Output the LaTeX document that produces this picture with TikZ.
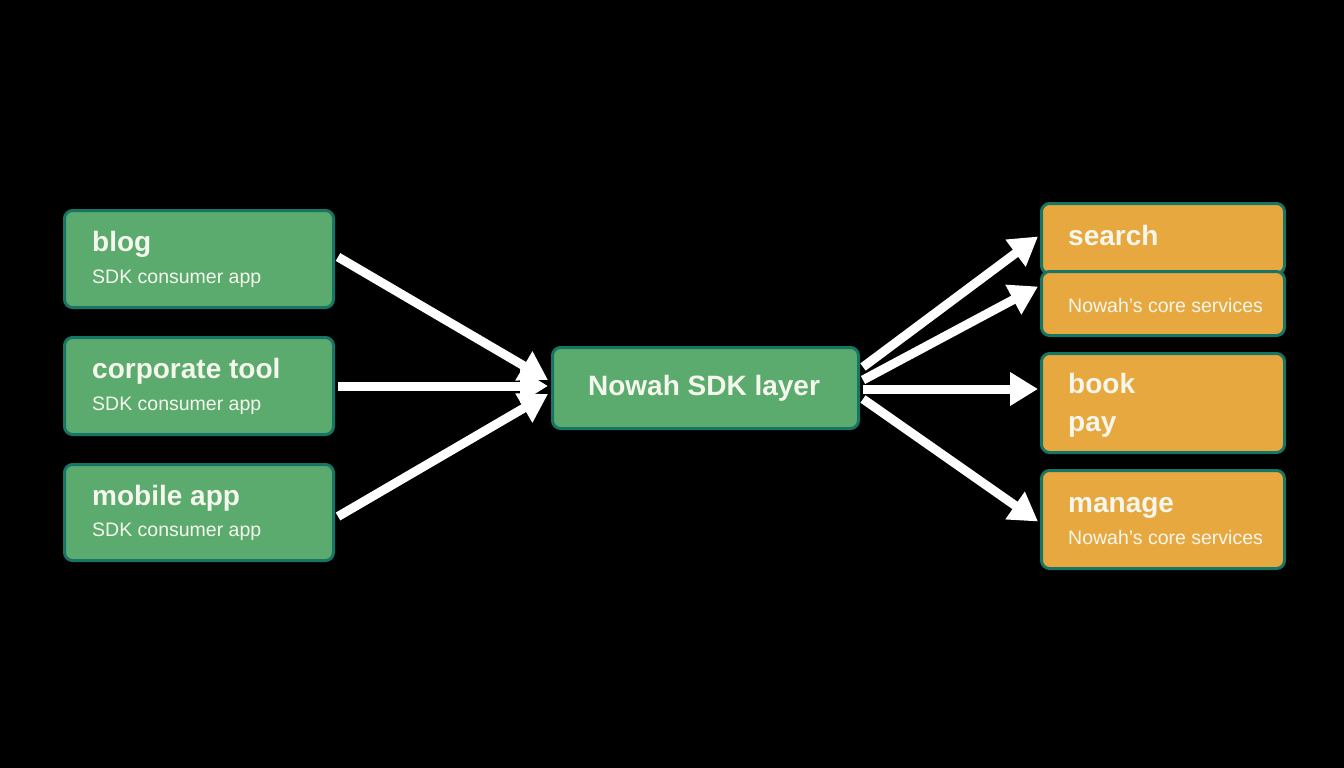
\documentclass[tikz,border=0pt]{standalone}
\usepackage{fontspec}
\setmainfont{Liberation Sans}
\usetikzlibrary{arrows.meta}
\definecolor{gfill}{HTML}{5BAA6E}
\definecolor{ofill}{HTML}{E8A840}
\definecolor{bcol}{HTML}{167565}
\definecolor{tcol}{HTML}{F5F7EC}
\tikzset{
  box/.style={draw=bcol, line width=3pt, rounded corners=8pt, anchor=north west, inner sep=0pt},
  gbox/.style={box, fill=gfill},
  obox/.style={box, fill=ofill},
  ttl/.style={anchor=base west, inner sep=0pt, text=tcol, font=\fontsize{28}{30}\selectfont\bfseries},
  sub/.style={anchor=base west, inner sep=0pt, text=tcol, font=\fontsize{19.5}{22}\selectfont},
  arr/.style={draw=white, line width=9pt, -{Triangle[length=28pt,width=32pt]}}
}
\begin{document}
\begin{tikzpicture}[x=1pt,y=-1pt]
\useasboundingbox[fill=black] (0,0) rectangle (1344,768);
% left boxes
\node[gbox, minimum width=269pt, minimum height=97pt] (blog) at (63,209) {};
\node[gbox, minimum width=269pt, minimum height=97pt] (corp) at (63,336) {};
\node[gbox, minimum width=269pt, minimum height=96pt] (mob) at (63,463) {};
\node[ttl] (blogt) at (92,251) {blog};
\node[sub] (blogs) at (92,283) {SDK consumer app};
\node[ttl] (corpt) at (92,378) {corporate tool};
\node[sub] (corps) at (92,410) {SDK consumer app};
\node[ttl] (mobt) at (92,505) {mobile app};
\node[sub] (mobs) at (92,536) {SDK consumer app};
% center
\node[gbox, minimum width=306pt, minimum height=81pt] (sdk) at (551,346) {};
\node[anchor=base, inner sep=0pt, text=tcol, font=\fontsize{28}{30}\selectfont\bfseries] (sdkt) at (704,395) {Nowah SDK layer};
% right boxes
\node[obox, minimum width=243pt, minimum height=70pt] (search) at (1040,202) {};
\node[obox, minimum width=243pt, minimum height=64pt] (core) at (1040,270) {};
\node[obox, minimum width=243pt, minimum height=99pt] (book) at (1040,352) {};
\node[obox, minimum width=243pt, minimum height=98pt] (manage) at (1040,469) {};
\node[ttl] (searcht) at (1068,245) {search};
\node[sub] (cores) at (1068,312) {Nowah's core services};
\node[ttl] (bookt) at (1068,393) {book};
\node[ttl] (payt) at (1068,431) {pay};
\node[ttl] (managet) at (1068,512) {manage};
\node[sub] (manages) at (1068,544) {Nowah's core services};
% arrows in
\draw[arr] ([xshift=3pt,yshift=2pt]blog.east) -- ([xshift=-3pt,yshift=8pt]sdk.west);
\draw[arr] ([xshift=3pt,yshift=0pt]corp.east) -- ([xshift=-3pt,yshift=2pt]sdk.west);
\draw[arr] ([xshift=3pt,yshift=-4pt]mob.east) -- ([xshift=-3pt,yshift=-6pt]sdk.west);
% arrows out
\draw[arr] ([xshift=3pt,yshift=21pt]sdk.east) -- ([xshift=-2pt,yshift=2pt]search.west);
\draw[arr] ([xshift=3pt,yshift=8pt]sdk.east) -- ([xshift=-2pt,yshift=17pt]core.west);
\draw[arr] ([xshift=3pt,yshift=-1pt]sdk.east) -- ([xshift=-2pt,yshift=14pt]book.west);
\draw[arr] ([xshift=3pt,yshift=-11pt]sdk.east) -- ([xshift=-2pt,yshift=-2pt]manage.west);
\end{tikzpicture}
\end{document}
